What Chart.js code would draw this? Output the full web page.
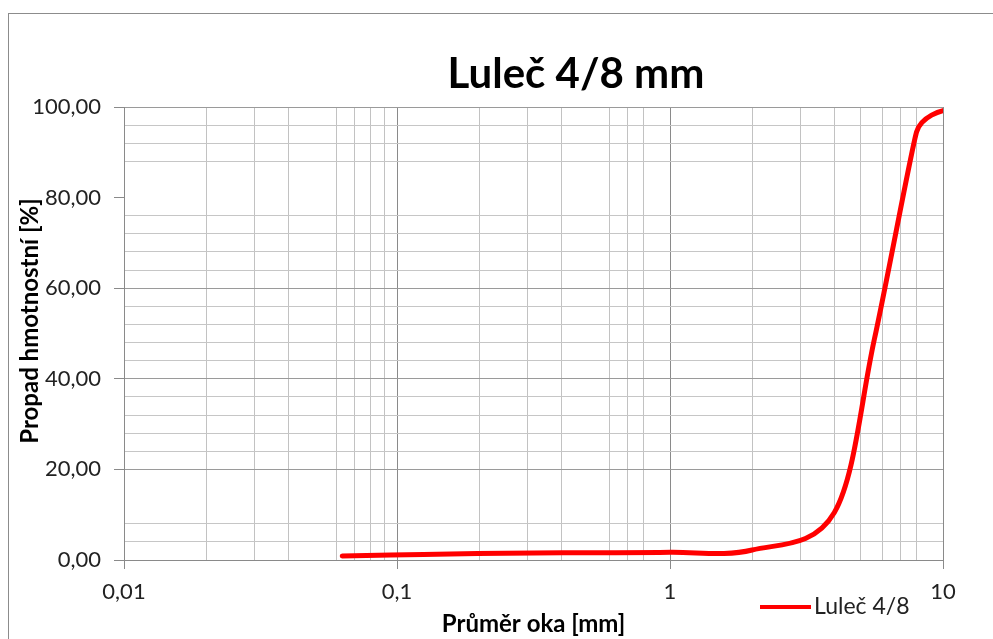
<!DOCTYPE html>
<html><head><meta charset="utf-8">
<script src="https://cdn.jsdelivr.net/npm/chart.js@4.4.0/dist/chart.umd.min.js"></script>
<style>html,body{margin:0;padding:0;background:#fff;overflow:hidden}canvas{display:block}</style>
</head><body>
<canvas id="c" width="993" height="639"></canvas>
<script>
const chartTitle = 'Luleč 4/8 mm';
const seriesName = 'Luleč 4/8';
const xAxisTitle = 'Průměr oka [mm]';
const yAxisTitle = 'Propad hmotnostní [%]';
const sieveSizes = [0.063, 0.125, 0.25, 0.5, 1, 2, 4, 5.6, 8, 10];
const passing = [0.9, 1.2, 1.5, 1.6, 1.7, 2.2, 10.5, 48.6, 94.5, 99.2];
const xMajorValues = [0.01, 0.1, 1, 10];
const xMajorLabels = ['0,01', '0,1', '1', '10'];
const yMajorValues = [0, 20, 40, 60, 80, 100];
const yMajorLabels = ['0,00', '20,00', '40,00', '60,00', '80,00', '100,00'];
const hiddenGridX = [0.05, 0.5, 0.9, 9];
const hiddenGridY = [12, 16, 80, 84];

const near = (a, b) => Math.abs(a - b) < 1e-6 * Math.max(1, Math.abs(b));
const inList = (v, list) => list.some(x => near(v, x));
const FONT = 'Lato, "Open Sans", sans-serif';

// Excel-like smoothed line (Bezier controls at 1/6 of neighbour chord, limited for uneven segments)
const excelSmooth = {
  id: 'excelSmooth',
  beforeDatasetsDraw(chart) {
    chart.data.datasets.forEach((ds, di) => {
      const meta = chart.getDatasetMeta(di);
      const line = meta.dataset;
      if (!line) return;
      line.updateControlPoints(chart.chartArea, 'x');
      const pts = meta.data;
      const n = pts.length;
      const dist = (a, b) => Math.hypot(b.x - a.x, b.y - a.y);
      for (let i = 0; i < n; i++) {
        const p = pts[i];
        const prev = pts[i - 1] || p;
        const next = pts[i + 1] || p;
        const d01 = dist(prev, p), d12 = dist(p, next), d02 = dist(prev, next);
        let f = 1 / 6;
        if (d02 === 0) f = 0;
        else if (d01 / 6 >= d12 / 2) f = d12 / d02 / 2;
        else if (d12 / 6 >= d01 / 2) f = d01 / d02 / 2;
        const vx = next.x - prev.x, vy = next.y - prev.y;
        p.cp1x = p.x - f * vx; p.cp1y = p.y - f * vy;
        p.cp2x = p.x + f * vx; p.cp2y = p.y + f * vy;
      }
      line._path = undefined;
    });
  }
};

const decor = {
  id: 'decor',
  beforeDraw(chart) {
    const c = chart.ctx;
    c.save();
    c.strokeStyle = '#8c8c8c';
    c.lineWidth = 1;
    c.strokeRect(8.5, 13.5, 1200, 1000);
    c.restore();
  },
  afterDraw(chart) {
    const c = chart.ctx;
    const ds = chart.data.datasets[0];
    c.save();
    c.fillStyle = '#000';
    c.font = 'bold 42px ' + FONT;
    c.textAlign = 'center';
    c.textBaseline = 'alphabetic';
    c.fillText(chartTitle, 576, 88);
    // vertical axis title
    c.save();
    c.translate(30, 321);
    c.rotate(-Math.PI / 2);
    c.font = 'bold 24px ' + FONT;
    c.textBaseline = 'middle';
    c.fillText(yAxisTitle, 0, 0);
    c.restore();
    // legend
    c.strokeStyle = ds.borderColor;
    c.lineWidth = 4;
    c.beginPath(); c.moveTo(760, 607); c.lineTo(811, 607); c.stroke();
    c.font = '23px ' + FONT;
    c.fillStyle = '#222';
    c.textAlign = 'left';
    c.textBaseline = 'middle';
    c.fillText(ds.label, 814, 607);
    c.restore();
  }
};

new Chart(document.getElementById('c'), {
  type: 'line',
  data: {
    datasets: [{
      label: seriesName,
      data: sieveSizes.map((x, i) => ({x: x, y: passing[i]})),
      borderColor: '#ff0000',
      borderWidth: 5,
      borderCapStyle: 'round',
      borderJoinStyle: 'round',
      pointRadius: 0,
      tension: 0.4,
      fill: false
    }]
  },
  options: {
    responsive: false,
    animation: false,
    devicePixelRatio: 1,
    layout: {padding: {left: 0, right: 50, top: 107, bottom: 0}},
    plugins: {legend: {display: false}, title: {display: false}, tooltip: {enabled: false}},
    scales: {
      x: {
        type: 'logarithmic',
        min: 0.01, max: 10,
        afterFit(s) { s.height = 79; },
        afterBuildTicks(s) {
          s.ticks = s.ticks.filter(t => {
            const e = Math.floor(Math.log10(t.value) + 1e-9);
            const m = t.value / Math.pow(10, e);
            return Math.abs(m - Math.round(m)) < 1e-6;
          });
        },
        border: {color: '#8a8a8a', width: 1},
        grid: {
          color: ctx => inList(ctx.tick.value, xMajorValues) ? '#8a8a8a' : (inList(ctx.tick.value, hiddenGridX) ? 'rgba(0,0,0,0)' : '#c2c2c2'),
          tickColor: ctx => inList(ctx.tick.value, xMajorValues) ? '#8a8a8a' : 'rgba(0,0,0,0)',
          tickLength: 9, lineWidth: 1
        },
        ticks: {
          autoSkip: false, maxRotation: 0, padding: 10,
          color: '#222', font: {family: FONT, size: 22},
          callback: v => { const i = xMajorValues.findIndex(m => near(v, m)); return i >= 0 ? xMajorLabels[i] : ''; }
        },
        title: {display: true, text: xAxisTitle, color: '#000', font: {family: FONT, size: 24, weight: 'bold'}, padding: {top: 0, bottom: 0}}
      },
      y: {
        type: 'linear',
        min: 0, max: 100,
        afterFit(s) { s.width = 124; },
        border: {color: '#8a8a8a', width: 1},
        grid: {
          color: ctx => inList(ctx.tick.value, hiddenGridY) ? 'rgba(0,0,0,0)' : (inList(ctx.tick.value, yMajorValues) ? '#9a9a9a' : '#c6c6c6'),
          tickColor: ctx => inList(ctx.tick.value, yMajorValues) ? '#8a8a8a' : 'rgba(0,0,0,0)',
          tickLength: 10, lineWidth: 1
        },
        ticks: {
          stepSize: 4, autoSkip: false, padding: 13,
          color: '#222', font: {family: FONT, size: 22},
          callback: v => { const i = yMajorValues.findIndex(m => near(v, m)); return i >= 0 ? yMajorLabels[i] : ''; }
        },
        title: {display: false}
      }
    }
  },
  plugins: [excelSmooth, decor]
});
</script>
</body></html>
